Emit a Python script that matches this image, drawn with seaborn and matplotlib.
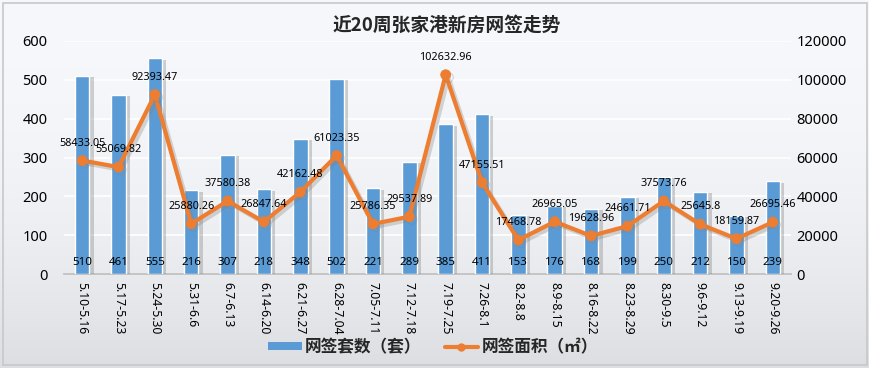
import numpy as np
import matplotlib
matplotlib.use("Agg")
import matplotlib.pyplot as plt
import matplotlib.patheffects as pe
from matplotlib.patches import Rectangle, Patch
from matplotlib.lines import Line2D
import seaborn as sns

weeks = ["5.10-5.16", "5.17-5.23", "5.24-5.30", "5.31-6.6", "6.7-6.13", "6.14-6.20",
         "6.21-6.27", "6.28-7.04", "7.05-7.11", "7.12-7.18", "7.19-7.25", "7.26-8.1",
         "8.2-8.8", "8.9-8.15", "8.16-8.22", "8.23-8.29", "8.30-9.5", "9.6-9.12",
         "9.13-9.19", "9.20-9.26"]
units = [510, 461, 555, 216, 307, 218, 348, 502, 221, 289, 385, 411, 153, 176, 168,
         199, 250, 212, 150, 239]
area = [58433.05, 55069.82, 92393.47, 25880.26, 37580.38, 26847.64, 42162.48, 61023.35,
        25786.35, 29537.89, 102632.96, 47155.51, 17468.78, 26965.05, 19628.96, 24661.71,
        37573.76, 25645.8, 18159.87, 26695.46]
area_labels = ["58433.05", "55069.82", "92393.47", "25880.26", "37580.38", "26847.64",
               "42162.48", "61023.35", "25786.35", "29537.89", "102632.96", "47155.51",
               "17468.78", "26965.05", "19628.96", "24661.71", "37573.76", "25645.8",
               "18159.87", "26695.46"]
title = "近20周张家港新房网签走势"
legend_bar = "网签套数（套）"
legend_line = "网签面积（㎡）"

sns.set_theme(style="white")
plt.rcParams['font.family'] = ['Noto Sans', 'Noto Sans CJK SC', 'DejaVu Sans']
plt.rcParams['axes.unicode_minus'] = False

BLUE = "#5B9BD5"
ORANGE = "#ED7D31"

fig = plt.figure(figsize=(8.7, 3.68), dpi=100)
fig.patch.set_facecolor("#f4f6f9")

# background gradient
bg = fig.add_axes([0, 0, 1, 1], zorder=-10)
t = np.linspace(0, 1, 256)
vals = 0.975 - 0.10 * t ** 2.2
grad = np.zeros((256, 1, 3))
grad[:, 0, 0] = vals - 0.012
grad[:, 0, 1] = vals - 0.004
grad[:, 0, 2] = vals + 0.008
grad = np.clip(grad, 0, 1)
bg.imshow(grad, aspect='auto', extent=[0, 1, 0, 1], origin='upper')
bg.add_patch(Rectangle((0.004, 0.008), 0.992, 0.984, fill=False, edgecolor="#c8c8c8", lw=1.2))
bg.set_xlim(0, 1); bg.set_ylim(0, 1)
bg.axis('off')

ax = fig.add_axes([64 / 870, 1 - 274 / 368, 727 / 870, 233 / 368])
ax.set_facecolor("none")
x = np.arange(len(weeks))

sns.barplot(x=weeks, y=units, ax=ax, color=BLUE, width=0.4, saturation=1, zorder=3)
for p in ax.patches:
    p.set_path_effects([pe.SimplePatchShadow(offset=(3, -1), shadow_rgbFace="#7f7f7f", alpha=0.35), pe.Normal()])

ax.set_ylim(0, 600)
ax.set_yticks(range(0, 601, 100))
ax.set_xlim(-0.5, len(weeks) - 0.5)
ax.grid(axis='y', color='white', lw=1.2, zorder=0)
ax.set_axisbelow(True)
for s in ['top', 'right', 'left']:
    ax.spines[s].set_visible(False)
ax.spines['bottom'].set_color("#bfbfbf")
ax.tick_params(axis='y', length=0, labelsize=10.5, pad=12, colors='black')
ax.tick_params(axis='x', length=0, labelsize=8.8, pad=6, colors='black')
ax.set_xticks(x)
ax.set_xticklabels(weeks, rotation=270, va='top', ha='center')
ax.set_xlabel(""); ax.set_ylabel("")

for i, v in enumerate(units):
    ax.annotate(str(v), (i, 0), xytext=(0, 8.6), textcoords='offset points',
                ha='center', va='center', fontsize=8.3, color='black', zorder=5)

ax2 = ax.twinx()
ax2.set_facecolor("none")
sns.lineplot(x=x, y=area, ax=ax2, color=ORANGE, lw=3, marker='o', markersize=7,
             markeredgecolor=ORANGE, sort=False, zorder=4,
             path_effects=[pe.SimpleLineShadow(offset=(2, -2), shadow_color="#7f7f7f", alpha=0.3), pe.Normal()])
ax2.set_ylim(0, 120000)
ax2.set_yticks(range(0, 120001, 20000))
for s in ax2.spines.values():
    s.set_visible(False)
ax2.tick_params(axis='y', length=0, labelsize=10.5, pad=4, colors='black')
ax2.set_ylabel("")
ax2.grid(False)

for i, (v, lab) in enumerate(zip(area, area_labels)):
    ax2.annotate(lab, (i, v), xytext=(0, 12.5), textcoords='offset points',
                 ha='center', va='center', fontsize=7.8, color='black', zorder=6)

fig.text(447 / 870, 1 - 25 / 368, title, ha='center', va='center', fontsize=13.5,
         fontweight='bold', family=['Noto Sans CJK SC'])

handles = [Patch(facecolor=BLUE, edgecolor='none'),
           Line2D([0], [0], color=ORANGE, lw=3, marker='o', markersize=5)]
leg = fig.legend(handles, [legend_bar, legend_line], loc='center', ncol=2,
                 bbox_to_anchor=(433 / 870, 1 - 347 / 368), frameon=False,
                 prop={'family': ['Noto Sans CJK SC'], 'weight': 'bold', 'size': 12},
                 handlelength=2.0, handletextpad=0.2, columnspacing=1.4, handleheight=0.4)

fig.savefig("out.png", dpi=100, facecolor=fig.get_facecolor())
